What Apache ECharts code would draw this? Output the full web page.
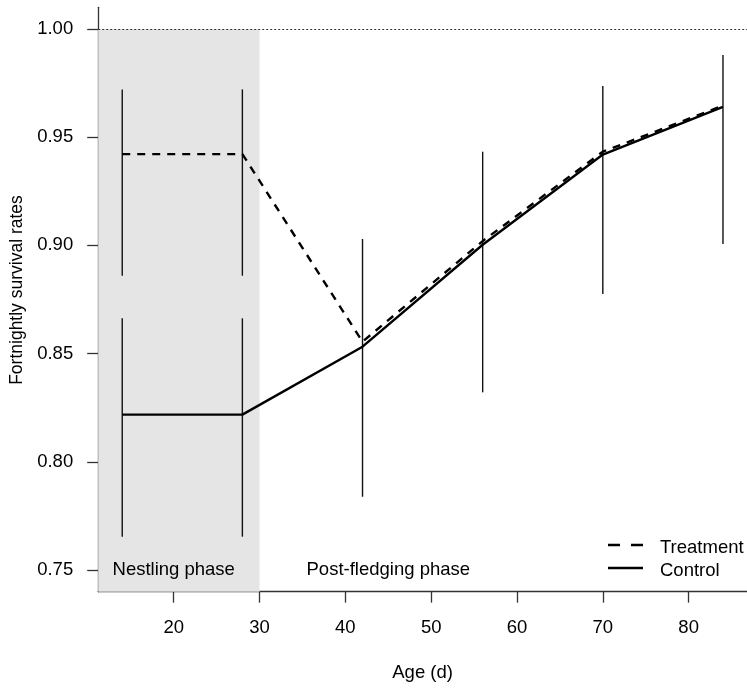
<!DOCTYPE html>
<html>
<head>
<meta charset="utf-8">
<script src="https://cdn.jsdelivr.net/npm/echarts@6/dist/echarts.min.js"></script>
<style>
html,body{margin:0;padding:0;background:#fff;}
#chart{width:747px;height:688px;}
</style>
</head>
<body>
<div id="chart"></div>
<script>
// ---- data ----
const ages = [14, 28, 42, 56, 70, 84];
const treatment = [0.9422, 0.9422, 0.8555, 0.9020, 0.9433, 0.9646];
const control = [0.8218, 0.8218, 0.8532, 0.9003, 0.9420, 0.9640];
// error bars: [age, lower, upper]
const ciAges = [14, 28, 14, 28, 42, 56, 70, 84];
const ciLower = [0.8860, 0.8860, 0.7654, 0.7654, 0.7838, 0.8321, 0.8775, 0.9006];
const ciUpper = [0.9721, 0.9721, 0.8663, 0.8663, 0.9030, 0.9433, 0.9737, 0.9880];
const xTicks = [20, 30, 40, 50, 60, 70, 80];
const yTicks = [0.75, 0.80, 0.85, 0.90, 0.95, 1.00];
const phaseLabels = ['Nestling phase', 'Post-fledging phase'];
const phaseX = [20, 45];
const phaseY = [0.75, 0.75];
const seriesNames = ['Treatment', 'Control'];
const nestlingEnd = 30;
const refLine = 1.00;
const xMin = 11.2, xMax = 86.8, yMin = 0.74, yMax = 1.01;

const FONT = "'Liberation Sans', Arial, sans-serif";
const TXT = '#000';
const chart = echarts.init(document.getElementById('chart'), null, {renderer: 'canvas'});

const ciData = ciAges.map((a, i) => [a, ciLower[i], ciUpper[i]]);

// legend drawn as graphic (R-style, no box)
const legendGraphic = [
  {type: 'line', shape: {x1: 608, y1: 545, x2: 643, y2: 545},
   style: {stroke: '#000', lineWidth: 2.4, lineDash: [12, 11]}},
  {type: 'text', x: 660, y: 548, style: {text: seriesNames[0], fill: TXT,
   font: "18.5px 'Liberation Sans', Arial, sans-serif", textVerticalAlign: 'middle', verticalAlign: 'middle'}},
  {type: 'line', shape: {x1: 608, y1: 568, x2: 643, y2: 568},
   style: {stroke: '#000', lineWidth: 2.4}},
  {type: 'text', x: 660, y: 571, style: {text: seriesNames[1], fill: TXT,
   font: "18.5px 'Liberation Sans', Arial, sans-serif", textVerticalAlign: 'middle', verticalAlign: 'middle'}}
];

chart.setOption({
  animation: false,
  backgroundColor: '#ffffff',
  grid: {left: 98.2, right: -5.1, top: 7.36, bottom: 96.36, containLabel: false},
  graphic: legendGraphic,
  xAxis: {
    type: 'value', min: xMin, max: xMax,
    name: 'Age (d)', nameLocation: 'middle', nameGap: 72,
    nameTextStyle: {fontFamily: FONT, fontSize: 18.5, color: TXT},
    axisLine: {show: true, lineStyle: {color: '#333', width: 1.3}},
    axisTick: {show: true, length: 11, lineStyle: {color: '#333', width: 1.3}, customValues: xTicks},
    axisLabel: {fontFamily: FONT, fontSize: 18.5, color: TXT, margin: 27, customValues: xTicks},
    splitLine: {show: false}
  },
  yAxis: {
    type: 'value', min: yMin, max: yMax,
    name: 'Fortnightly survival rates', nameLocation: 'middle', nameGap: 65,
    nameTextStyle: {fontFamily: FONT, fontSize: 17.5, color: TXT, padding: [0, 0, 0, 19]},
    axisLine: {show: true, lineStyle: {color: '#333', width: 1.3}},
    axisTick: {show: true, length: 11, lineStyle: {color: '#333', width: 1.3}, customValues: yTicks},
    axisLabel: {fontFamily: FONT, fontSize: 18.5, color: TXT, margin: 25, customValues: yTicks,
      formatter: v => v.toFixed(2)},
    splitLine: {show: false}
  },
  series: [
    {
      name: 'band', type: 'line', data: [], z: 0, silent: true,
      markArea: {
        silent: true,
        itemStyle: {color: '#e5e5e5'},
        data: [[{xAxis: xMin, yAxis: yMin}, {xAxis: nestlingEnd, yAxis: refLine}]]
      },
      markLine: {
        silent: true, symbol: 'none', label: {show: false},
        lineStyle: {color: '#333', width: 1, type: [2, 2]},
        data: [{yAxis: refLine}]
      }
    },
    {
      name: 'CI', type: 'custom', z: 3, silent: true,
      data: ciData,
      renderItem: function (params, api) {
        const p1 = api.coord([api.value(0), api.value(1)]);
        const p2 = api.coord([api.value(0), api.value(2)]);
        return {type: 'line', shape: {x1: p1[0], y1: p1[1], x2: p2[0], y2: p2[1]},
          style: {stroke: '#111', lineWidth: 1.4}};
      }
    },
    {
      name: seriesNames[0], type: 'line', z: 4, symbol: 'none',
      data: ages.map((a, i) => [a, treatment[i]]),
      lineStyle: {color: '#000', width: 2.4, type: [8, 7]},
      itemStyle: {color: '#000'}
    },
    {
      name: seriesNames[1], type: 'line', z: 4, symbol: 'none',
      data: ages.map((a, i) => [a, control[i]]),
      lineStyle: {color: '#000', width: 2.4, type: 'solid'},
      itemStyle: {color: '#000'}
    },
    {
      name: 'phases', type: 'custom', z: 5, silent: true,
      data: phaseX.map((x, i) => [x, phaseY[i], i]),
      renderItem: function (params, api) {
        const p = api.coord([api.value(0), api.value(1)]);
        return {type: 'text', x: p[0], y: p[1],
          style: {text: phaseLabels[api.value(2)], fill: TXT, align: 'center', verticalAlign: 'middle',
            font: "18.5px 'Liberation Sans', Arial, sans-serif"}};
      }
    }
  ]
});
</script>
</body>
</html>
